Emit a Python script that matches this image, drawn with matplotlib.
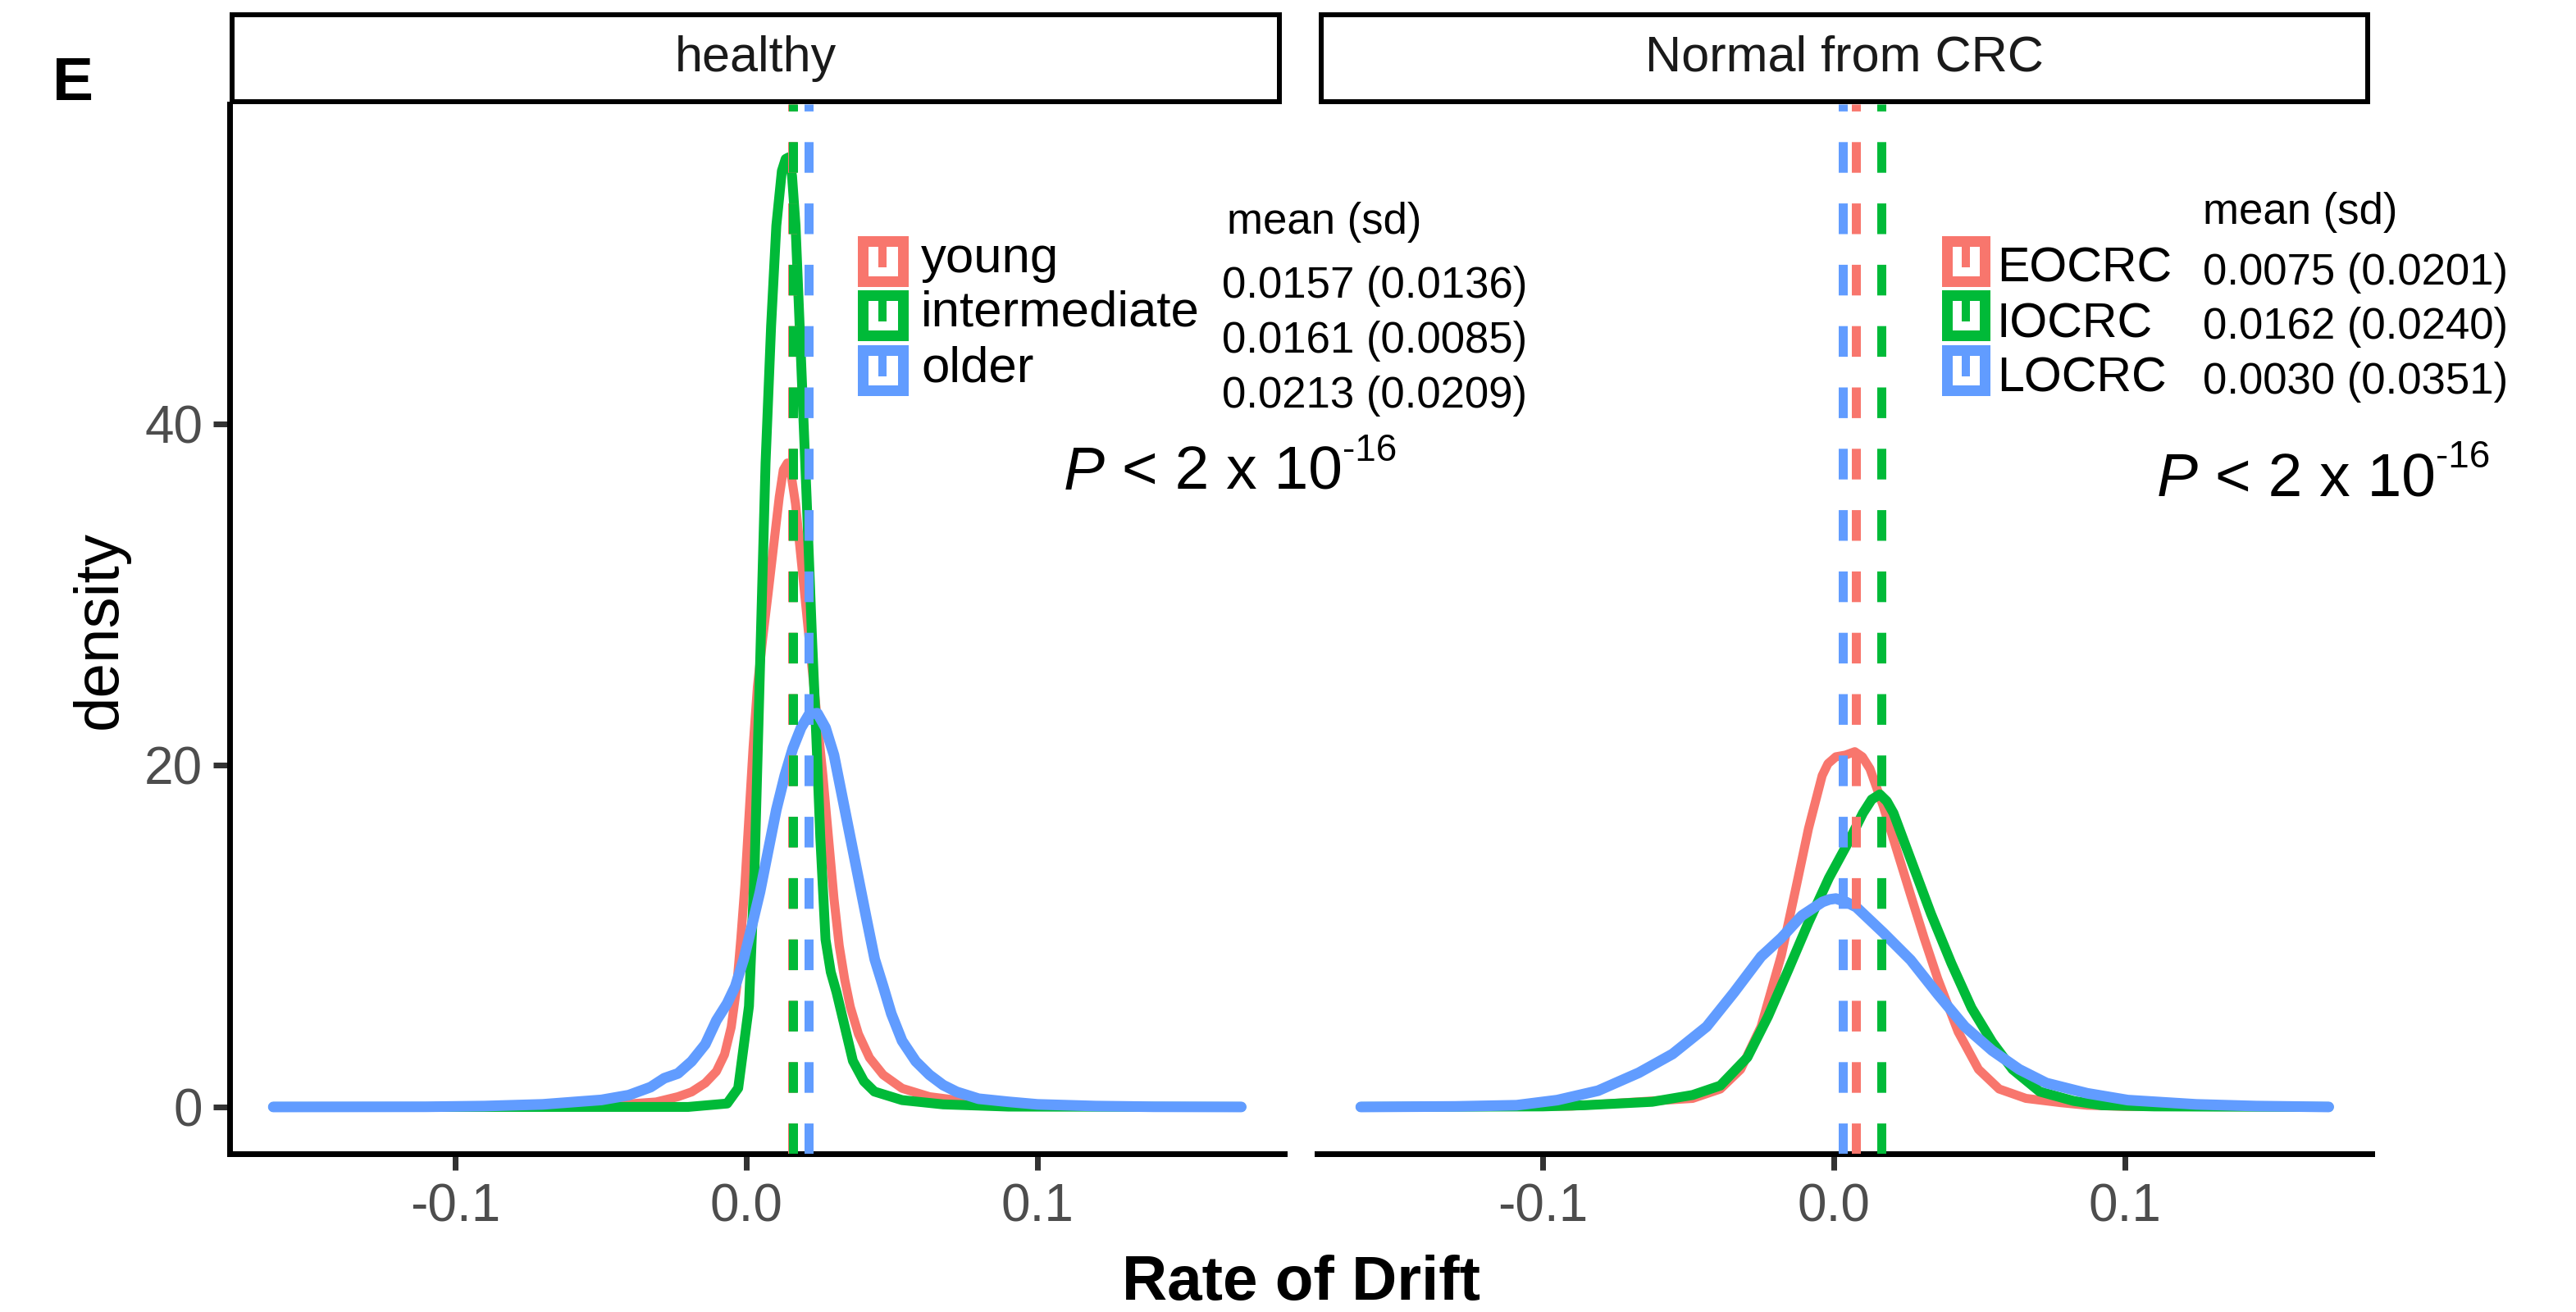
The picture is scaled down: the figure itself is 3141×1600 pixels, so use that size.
import matplotlib
matplotlib.use("Agg")
import matplotlib.pyplot as plt
from matplotlib.patches import Rectangle
from matplotlib.lines import Line2D

plt.rcParams['font.family'] = ['Liberation Sans', 'DejaVu Sans']

# ---------------- data ----------------
panels = ["healthy", "Normal from CRC"]
groups_left = ["young", "intermediate", "older"]
groups_right = ["EOCRC", "IOCRC", "LOCRC"]
colors = ["#F8766D", "#00BA38", "#619CFF"]

young_x = [-0.1625, -0.09, -0.06, -0.045, -0.031, -0.0235, -0.0188, -0.0141, -0.0103, -0.0075,
           -0.0052, -0.0033, -0.0019, -0.0005, 0.0009, 0.0023, 0.0038, 0.0056, 0.0075, 0.0094,
           0.0113, 0.0127, 0.0141, 0.0155, 0.0169, 0.0188, 0.0207, 0.0225, 0.0244, 0.0263,
           0.0282, 0.0301, 0.0319, 0.0338, 0.0357, 0.0385, 0.0423, 0.047, 0.0535, 0.0629, 0.077,
           0.09, 0.11, 0.170]
young_y = [0, 0.01, 0.05, 0.12, 0.29, 0.60, 0.88, 1.40, 2.08, 3.07, 4.67, 7.05, 9.84, 13.0, 17.0,
           21.0, 24.6, 27.4, 30.1, 32.9, 35.7, 37.3, 37.7, 36.9, 35.3, 32.1, 28.9, 25.8, 22.6,
           19.4, 15.8, 12.2, 9.44, 7.45, 5.86, 4.27, 2.88, 1.88, 1.09, 0.60, 0.29, 0.12, 0.03, 0]

intermediate_x = [-0.1625, -0.02, -0.0066, -0.0028, 0.0009, 0.0028, 0.0047, 0.0066, 0.0085, 0.0103,
                  0.0122, 0.0135, 0.0146, 0.0157, 0.0169, 0.0188, 0.0207, 0.0225, 0.024, 0.0254,
                  0.0272, 0.029, 0.031, 0.0338, 0.0366, 0.0404, 0.044, 0.0535, 0.0676, 0.09, 0.170]
intermediate_y = [0, 0, 0.2, 1.1, 5.9, 13.8, 25.8, 37.7, 45.7, 51.6, 54.8, 55.5, 55.6, 54.5, 51.6,
                  43.7, 35.7, 27.7, 21.8, 15.8, 9.8, 7.9, 6.7, 4.7, 2.7, 1.5, 0.9, 0.4, 0.15,
                  0.02, 0]

older_x = [-0.1625, -0.11, -0.09, -0.07, -0.0592, -0.0498, -0.0404, -0.0329, -0.0282, -0.0235,
           -0.0188, -0.0141, -0.0103, -0.0066, -0.0038, -0.0009, 0.0019, 0.0047, 0.0075, 0.0103,
           0.0132, 0.016, 0.0188, 0.0216, 0.0244, 0.0272, 0.0301, 0.0329, 0.0357, 0.0385, 0.0413,
           0.0441, 0.047, 0.0498, 0.0535, 0.0582, 0.0629, 0.0676, 0.0723, 0.0798, 0.09, 0.1, 0.12,
           0.14, 0.170]
older_y = [0, 0.01, 0.05, 0.15, 0.29, 0.41, 0.69, 1.16, 1.68, 1.96, 2.67, 3.67, 5.06, 6.06, 7.06,
           8.65, 10.6, 12.6, 15.0, 17.4, 19.4, 21.0, 22.2, 23.0, 23.05, 22.2, 20.6, 18.2, 15.8,
           13.4, 11.0, 8.65, 7.06, 5.46, 3.87, 2.67, 1.88, 1.28, 0.88, 0.48, 0.3, 0.15, 0.05,
           0.01, 0]

eocrc_x = [-0.1625, -0.09, -0.067, -0.0485, -0.039, -0.032, -0.025, -0.018, -0.0133, -0.0087,
           -0.004, -0.002, 0.0007, 0.004, 0.0072, 0.0098, 0.0124, 0.017, 0.0217, 0.0264, 0.031,
           0.0357, 0.0427, 0.0497, 0.0568, 0.066, 0.078, 0.087, 0.1, 0.170]
eocrc_y = [0, 0.05, 0.3, 0.5, 1.05, 2.2, 4.7, 8.9, 12.6, 16.3, 19.4, 20.1, 20.5, 20.6, 20.8, 20.5,
           19.8, 17.6, 15.0, 12.4, 9.9, 7.5, 4.4, 2.2, 1.05, 0.5, 0.25, 0.1, 0.03, 0]

iocrc_x = [-0.1625, -0.1, -0.0857, -0.0624, -0.0485, -0.039, -0.0297, -0.0226, -0.0157, -0.0087,
           -0.0017, 0.0053, 0.01, 0.013, 0.0158, 0.0182, 0.0205, 0.0264, 0.0334, 0.0404, 0.0473,
           0.0544, 0.0614, 0.0707, 0.0824, 0.092, 0.11, 0.170]
iocrc_y = [0, 0.03, 0.1, 0.3, 0.7, 1.25, 2.9, 5.3, 8.0, 10.8, 13.4, 15.6, 17.2, 18.0, 18.3, 17.9,
           17.2, 14.5, 11.3, 8.4, 5.8, 3.8, 2.2, 0.9, 0.35, 0.1, 0.03, 0]

locrc_x = [-0.1625, -0.13, -0.109, -0.095, -0.081, -0.067, -0.0554, -0.0437, -0.0343, -0.025,
           -0.018, -0.011, -0.0039, -0.0015, 0.0007, 0.0042, 0.0077, 0.017, 0.0264, 0.0357, 0.045,
           0.0544, 0.0637, 0.073, 0.087, 0.101, 0.1245, 0.145, 0.170]
locrc_y = [0, 0.03, 0.1, 0.4, 0.95, 2.0, 3.1, 4.7, 6.7, 8.8, 9.9, 11.2, 12.0, 12.15, 12.2, 12.0,
           11.7, 10.2, 8.6, 6.6, 4.7, 3.3, 2.2, 1.4, 0.8, 0.4, 0.15, 0.05, 0]

means_left = [0.0157, 0.0161, 0.0213]
sds_left = [0.0136, 0.0085, 0.0209]
means_right = [0.0075, 0.0162, 0.0030]
sds_right = [0.0201, 0.0240, 0.0351]

x_ticks = [-0.1, 0.0, 0.1]
x_ticklabels = ["-0.1", "0.0", "0.1"]
y_ticks = [0, 20, 40]
y_ticklabels = ["0", "20", "40"]

# ---------------- figure ----------------
W, H = 3141, 1600
DPI = 100
fig = plt.figure(figsize=(W / DPI, H / DPI), dpi=DPI)
PT = 72.0 / DPI  # points per pixel


def fx(px):
    return px / W


def fy(py):
    return 1 - py / H


ax_w = (1566 - 280) / W
ax_h = (1407 - 127) / H
axL = fig.add_axes([fx(280), fy(1407), ax_w, ax_h])
axR = fig.add_axes([fx(1606), fy(1407), ax_w, ax_h])

xlim = (-0.1775, 0.1848)
ylim = (-2.74, 58.71)

curve_lw = [11 * PT, 12 * PT, 13 * PT]

left_series = [(young_x, young_y), (intermediate_x, intermediate_y), (older_x, older_y)]
right_series = [(eocrc_x, eocrc_y), (iocrc_x, iocrc_y), (locrc_x, locrc_y)]

for ax, series, means in [(axL, left_series, means_left), (axR, right_series, means_right)]:
    for (xs, ys), c, lw in zip(series, colors, curve_lw):
        ax.plot(xs, ys, color=c, lw=lw, solid_joinstyle='round', solid_capstyle='round', zorder=2)
    for m, c in zip(means, colors):
        ax.axvline(m, ymin=0, ymax=1, color=c, lw=11 * PT, dashes=(3.4, 3.4),
                   dash_capstyle='butt', zorder=3)
    ax.set_xlim(*xlim)
    ax.set_ylim(*ylim)
    ax.set_xticks(x_ticks)
    ax.set_xticklabels(x_ticklabels)
    for s in ['top', 'right']:
        ax.spines[s].set_visible(False)
    ax.spines['bottom'].set_linewidth(7 * PT)
    ax.spines['left'].set_linewidth(7 * PT)
    ax.tick_params(axis='both', length=20 * PT, width=7 * PT, color='#333333',
                   labelcolor='#4D4D4D', labelsize=46)
    ax.tick_params(axis='x', pad=15 * PT)
    ax.tick_params(axis='y', pad=13 * PT)
    ax.set_facecolor('none')

axL.set_yticks(y_ticks)
axL.set_yticklabels(y_ticklabels)
axR.spines['left'].set_visible(False)
axR.set_yticks([])

# ---------------- strips ----------------
sb = 6
for x0, x1, label in [(280, 1563, panels[0]), (1608, 2890, panels[1])]:
    fig.patches.append(Rectangle((fx(x0 + sb / 2), fy(127 - sb / 2)), (x1 - x0 - sb) / W,
                                 (127 - 15 - sb) / H, transform=fig.transFigure,
                                 facecolor='white', edgecolor='black', lw=sb * PT))
    fig.text(fx((x0 + x1) / 2), fy(71), label, ha='center', va='center', fontsize=44,
             color='#1A1A1A')

# ---------------- axis titles ----------------
fig.text(fx(1586), fy(1566), "Rate of Drift", ha='center', va='center', fontsize=55,
         fontweight='bold', color='black')
fig.text(fx(122), fy(768), "density", ha='center', va='center', rotation=90, fontsize=55,
         color='black')
fig.text(fx(64), fy(122), "E", ha='left', va='baseline', fontsize=54, fontweight='bold')

# ---------------- legends ----------------
key_rows = [(288, 349), (354, 415), (421, 482)]
kb = 13


def draw_key(x0, x1, y0, y1, c):
    fig.patches.append(Rectangle((fx(x0 + kb / 2), fy(y1 - kb / 2)), (x1 - x0 - kb) / W,
                                 (y1 - y0 - kb) / H, transform=fig.transFigure,
                                 facecolor='white', edgecolor=c, lw=kb * PT))
    xm = (x0 + x1) / 2
    fig.lines.append(Line2D([fx(xm), fx(xm)], [fy(y0 + 2), fy(y0 + (y1 - y0) * 0.62)],
                            transform=fig.transFigure, color=c, lw=10 * PT,
                            solid_capstyle='butt'))


val_fs = 38

# left legend
for (y0, y1), c in zip(key_rows, colors):
    draw_key(1045, 1107, y0, y1, c)
for g, yb in zip(groups_left, [332, 397, 465]):
    fig.text(fx(1123), fy(yb), g, ha='left', va='baseline', fontsize=44.5)
fig.text(fx(1496), fy(285), "mean (sd)", ha='left', va='baseline', fontsize=val_fs)
for m, s, yb in zip(means_left, sds_left, [363, 430, 497]):
    fig.text(fx(1490), fy(yb), f"{m:.4f} ({s:.4f})", ha='left', va='baseline', fontsize=val_fs)

# right legend
for (y0, y1), c in zip(key_rows, colors):
    draw_key(2367, 2426, y0, y1, c)
for g, yb in zip(groups_right, [344, 411, 477]):
    fig.text(fx(2435), fy(yb), g, ha='left', va='baseline', fontsize=42.5)
fig.text(fx(2686), fy(273), "mean (sd)", ha='left', va='baseline', fontsize=val_fs)
for m, s, yb in zip(means_right, sds_right, [347, 413, 480]):
    fig.text(fx(2686), fy(yb), f"{m:.4f} ({s:.4f})", ha='left', va='baseline', fontsize=val_fs)


# ---------------- P values ----------------
def p_text(xpx, ybase):
    t1 = fig.text(fx(xpx), fy(ybase), "P", ha='left', va='baseline', fontsize=54, style='italic')
    t2 = axL.annotate(" < 2 x 10", xy=(1, 0), xycoords=t1, ha='left', va='bottom', fontsize=54,
                      annotation_clip=False)
    axL.annotate("-16", xy=(1, 1), xycoords=t2, ha='left', va='top', fontsize=33,
                 xytext=(0, 11), textcoords='offset points', annotation_clip=False)


p_text(1297, 597)
p_text(2630, 605)

fig.savefig("out.png", dpi=DPI, facecolor='white')
